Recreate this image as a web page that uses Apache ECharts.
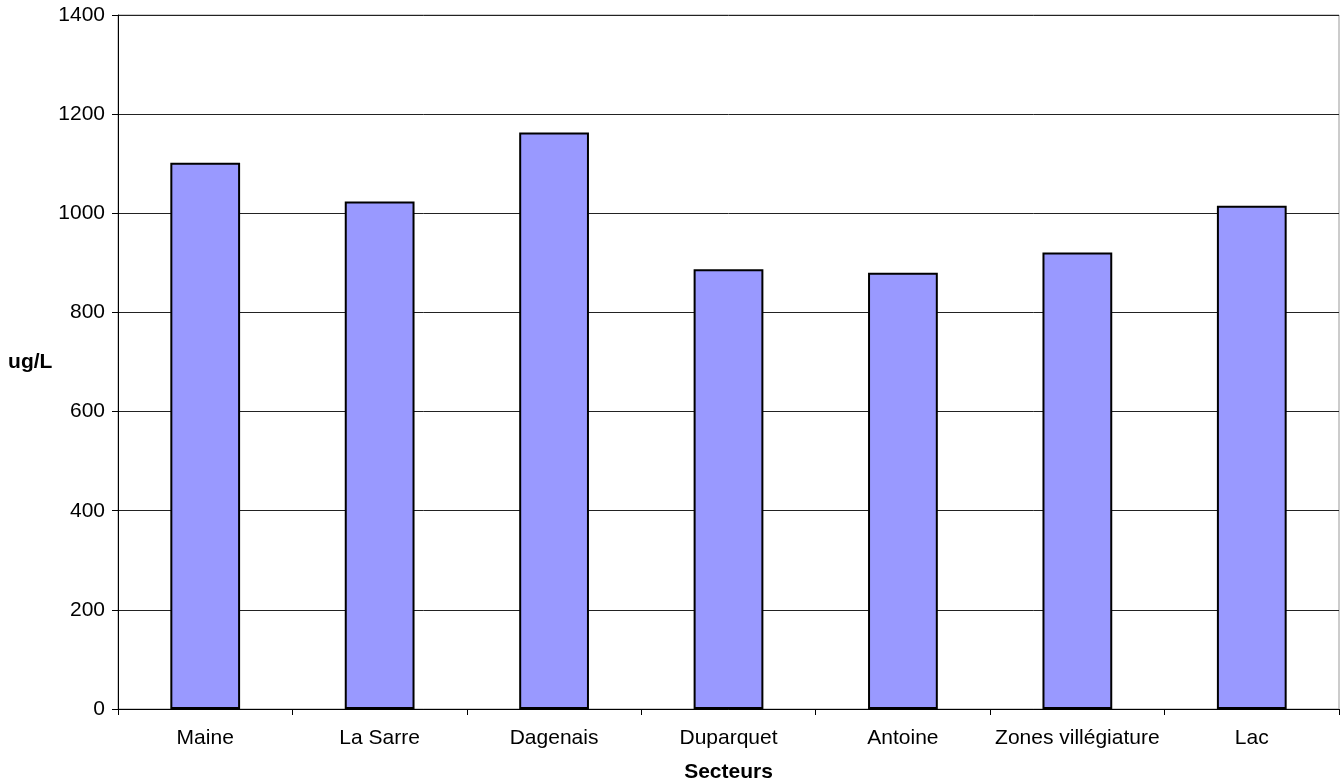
<!DOCTYPE html>
<html>
<head>
<meta charset="utf-8">
<script src="https://cdn.jsdelivr.net/npm/echarts@6/dist/echarts.min.js"></script>
<style>
  html, body { margin: 0; padding: 0; background: #fff; }
  #chart { width: 1340px; height: 782px; }
</style>
</head>
<body>
<div id="chart"></div>
<script>
// Concentration per sector (ug/L)
const categories = ['Maine', 'La Sarre', 'Dagenais', 'Duparquet', 'Antoine', 'Zones villégiature', 'Lac'];
const values = [1102, 1024, 1163, 887, 880, 921, 1015];
const yTicks = { min: 0, max: 1400, interval: 200 };

const chart = echarts.init(document.getElementById('chart'), null, { renderer: 'canvas' });
const font = '"Liberation Sans", Arial, sans-serif';

chart.setOption({
  animation: false,
  backgroundColor: '#fff',
  grid: {
    left: 118, right: 1, top: 15, bottom: 73,
    outerBoundsMode: 'none',
    containLabel: false,
    show: true, borderColor: '#999', borderWidth: 1, backgroundColor: 'transparent'
  },
  xAxis: {
    type: 'category',
    data: categories,
    name: 'Secteurs',
    nameLocation: 'middle',
    nameGap: 53,
    nameTextStyle: { fontFamily: font, fontSize: 21, fontWeight: 'bold', color: '#000' },
    axisLine: { lineStyle: { color: '#000', width: 1 } },
    axisTick: { show: true, length: 6, alignWithLabel: false, lineStyle: { color: '#000' } },
    axisLabel: { fontFamily: font, fontSize: 21, color: '#000', margin: 19, interval: 0 },
    splitLine: { show: false }
  },
  yAxis: {
    type: 'value',
    min: yTicks.min, max: yTicks.max, interval: yTicks.interval,
    name: 'ug/L',
    nameLocation: 'middle',
    nameRotate: 0,
    nameGap: 63,
    nameTextStyle: { fontFamily: font, fontSize: 21, fontWeight: 'bold', color: '#000' },
    axisLine: { show: true, lineStyle: { color: '#000', width: 1 } },
    axisTick: { show: true, length: 6, lineStyle: { color: '#000' } },
    axisLabel: { fontFamily: font, fontSize: 21, color: '#000', margin: 13, formatter: v => String(v) },
    splitLine: { show: true, lineStyle: { color: '#222', width: 1 } }
  },
  series: [{
    type: 'bar',
    data: values,
    barWidth: '40%',
    itemStyle: { color: '#9999ff', borderColor: '#000', borderWidth: 2 }
  }]
});
</script>
</body>
</html>
